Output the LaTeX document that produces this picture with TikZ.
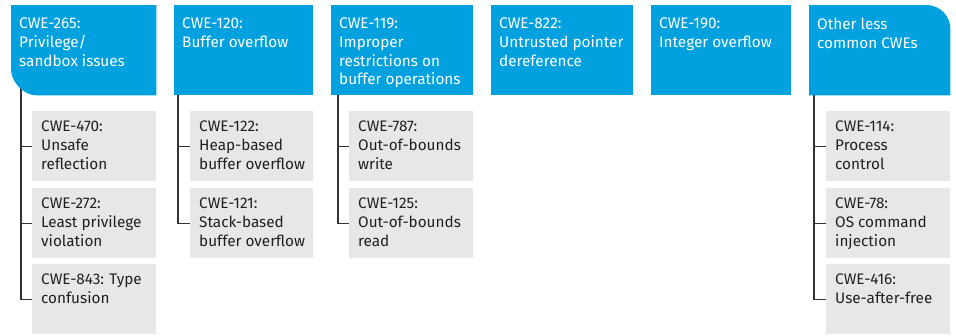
\documentclass[tikz,border=0pt]{standalone}
\usepackage{fontspec}
\setmainfont{Fira Sans}
\definecolor{hpblue}{RGB}{0,161,222}
\definecolor{subgray}{RGB}{230,231,232}
\definecolor{txtdark}{RGB}{35,31,32}
\definecolor{conncol}{RGB}{50,50,50}
\begin{document}
\begin{tikzpicture}[x=1pt,y=-1pt,
  hdr/.style={rectangle,inner sep=0pt,anchor=north west,minimum height=90pt,fill=hpblue},
  hdrshape/.style={rectangle,inner sep=0pt,anchor=north west,minimum height=90pt},
  sub/.style={rectangle,inner sep=0pt,anchor=north west,minimum height=70pt,fill=subgray},
  htxt/.style={inner sep=0pt,anchor=north west,align=left,text=white,font=\fontsize{15.3pt}{18.7pt}\selectfont},
  stxt/.style={inner sep=0pt,anchor=north west,align=left,text=txtdark,font=\fontsize{15.3pt}{18.7pt}\selectfont},
  conn/.style={draw=conncol,line width=1.4pt,line join=miter}]
\useasboundingbox (0,0) rectangle (956,335);
% header boxes
\node[hdrshape,minimum width=145pt] (h1) at (11,5) {};
\node[hdr,minimum width=139pt] (h2) at (174,5) {};
\node[hdr,minimum width=142pt] (h3) at (331,5) {};
\node[hdr,minimum width=142pt] (h4) at (491,5) {};
\node[hdr,minimum width=140pt] (h5) at (651,5) {};
\node[hdrshape,minimum width=141pt] (h6) at (809,5) {};
% sub boxes
\node[sub,minimum width=124pt] (c11) at (32,111) {};
\node[sub,minimum width=124pt] (c12) at (32,188) {};
\node[sub,minimum width=124pt] (c13) at (32,264) {};
\node[sub,minimum width=123pt] (c21) at (190,111) {};
\node[sub,minimum width=123pt] (c22) at (190,188) {};
\node[sub,minimum width=124pt] (c31) at (349,111) {};
\node[sub,minimum width=124pt] (c32) at (349,188) {};
\node[sub,minimum width=124pt] (c61) at (826,111) {};
\node[sub,minimum width=124pt] (c62) at (826,188) {};
\node[sub,minimum width=124pt] (c63) at (826,264) {};
% connectors
\draw[conn] ([shift={(10pt,10pt)}]h1.south west) |- (c13.west);
\draw[conn] (c11.west) -- ++(-11pt,0);
\draw[conn] (c12.west) -- ++(-11pt,0);
\draw[conn] ([xshift=4pt]h2.south west) |- (c22.west);
\draw[conn] (c21.west) -- ++(-12pt,0);
\draw[conn] ([xshift=7pt]h3.south west) |- (c32.west);
\draw[conn] (c31.west) -- ++(-11pt,0);
\draw[conn] ([xshift=5pt]h6.south west) |- (c63.west);
\draw[conn] (c61.west) -- ++(-12pt,0);
\draw[conn] (c62.west) -- ++(-12pt,0);
% rounded header fills
\fill[hpblue] (h1.north west) -- (h1.north east) -- (h1.south east) -- ([xshift=26pt]h1.south west)
  .. controls ([xshift=11.64pt]h1.south west) and ([yshift=14.36pt]h1.south west) .. ([yshift=26pt]h1.south west) -- cycle;
\fill[hpblue] (h6.south east) -- (h6.south west) -- (h6.north west) -- ([xshift=-24pt]h6.north east)
  .. controls ([xshift=-10.75pt]h6.north east) and ([yshift=-10.75pt]h6.north east) .. ([yshift=-24pt]h6.north east) -- cycle;
% header texts
\node[htxt] (t1) at ([shift={(8pt,-12.8pt)}]h1.north west) {CWE-265:\\Privilege/\\sandbox issues};
\node[htxt] (t2) at ([shift={(8pt,-12.8pt)}]h2.north west) {CWE-120:\\Buffer overflow};
\node[htxt] (t3) at ([shift={(8pt,-12.8pt)}]h3.north west) {CWE-119:\\Improper\\restrictions on\\buffer operations};
\node[htxt] (t4) at ([shift={(8pt,-12.8pt)}]h4.north west) {CWE-822:\\Untrusted pointer\\dereference};
\node[htxt] (t5) at ([shift={(8pt,-12.8pt)}]h5.north west) {CWE-190:\\Integer overflow};
\node[htxt] (t6) at ([shift={(8pt,-12.8pt)}]h6.north west) {Other less\\common CWEs};
% sub texts
\node[stxt] (s11) at ([shift={(9pt,-10pt)}]c11.north west) {CWE-470:\\Unsafe\\reflection};
\node[stxt] (s12) at ([shift={(9pt,-10pt)}]c12.north west) {CWE-272:\\Least privilege\\violation};
\node[stxt] (s13) at ([shift={(9pt,-10pt)}]c13.north west) {CWE-843: Type\\confusion};
\node[stxt] (s21) at ([shift={(9pt,-10pt)}]c21.north west) {CWE-122:\\Heap-based\\buffer overflow};
\node[stxt] (s22) at ([shift={(9pt,-10pt)}]c22.north west) {CWE-121:\\Stack-based\\buffer overflow};
\node[stxt] (s31) at ([shift={(9pt,-10pt)}]c31.north west) {CWE-787:\\Out-of-bounds\\write};
\node[stxt] (s32) at ([shift={(9pt,-10pt)}]c32.north west) {CWE-125:\\Out-of-bounds\\read};
\node[stxt] (s61) at ([shift={(9pt,-10pt)}]c61.north west) {CWE-114:\\Process\\control};
\node[stxt] (s62) at ([shift={(9pt,-10pt)}]c62.north west) {CWE-78:\\OS command\\injection};
\node[stxt] (s63) at ([shift={(9pt,-10pt)}]c63.north west) {CWE-416:\\Use-after-free};
\end{tikzpicture}
\end{document}
